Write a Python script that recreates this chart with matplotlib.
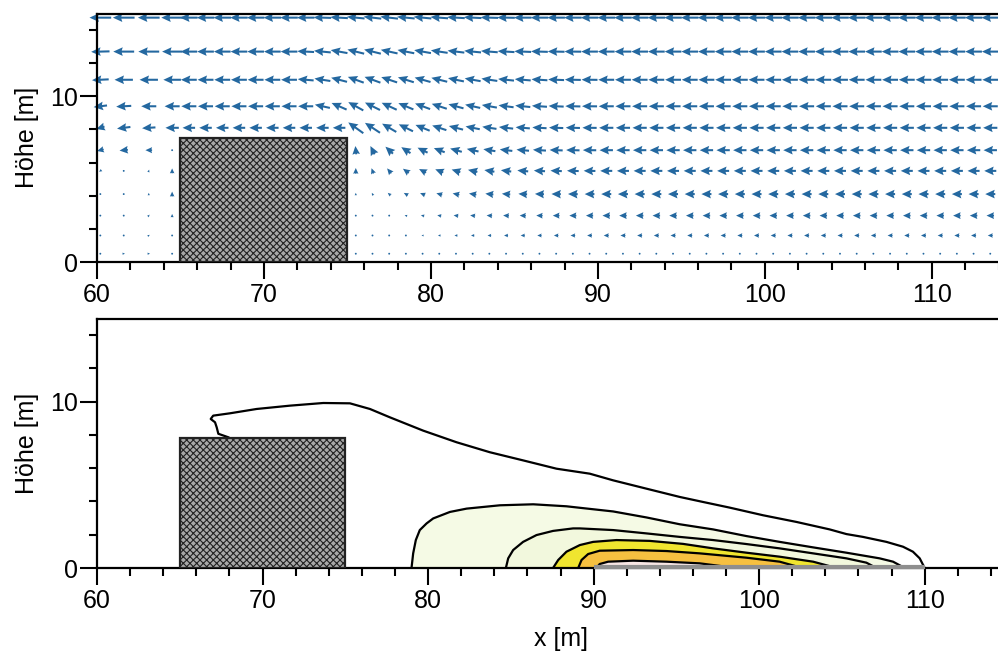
import matplotlib
matplotlib.use("Agg")
import matplotlib.pyplot as plt
from matplotlib.patches import Rectangle
from matplotlib.ticker import MultipleLocator
import numpy as np

plt.rcParams['font.family'] = ['Liberation Sans', 'DejaVu Sans']
plt.rcParams['hatch.linewidth'] = 0.8

# -------------------------------
# Geometry (m)
# -------------------------------
bldg_x = (65.0, 75.0)
bldg_h_top = 7.5
bldg_h_bot = 7.8
source_x = (90.0, 110.0)

# -------------------------------
# Wind field, arrows point upwind -> left
# -------------------------------
x_cols = [60.2, 61.6, 63.1, 64.5,
          65.5, 66.5, 67.5, 68.5, 69.5, 70.5, 71.5, 72.5, 73.5, 74.5,
          75.5, 76.5, 77.5, 78.5, 79.5, 80.5, 81.5, 82.5, 83.5, 84.5,
          85.5, 86.5, 87.5, 88.5, 89.5,
          90.5, 91.5, 92.5, 93.5, 94.5, 95.5, 96.5, 97.5, 98.5, 99.5,
          100.5, 101.5, 102.5, 103.5, 104.5, 105.5, 106.5, 107.5, 108.5,
          109.5, 110.5, 111.5, 112.5, 113.5]
y_rows = [0.5, 1.6, 2.8, 4.1, 5.5, 6.75, 8.1, 9.4, 11.0, 12.7, 14.75]

# each row: wake (4) + over building (10) + lee of source side (15) + far field (24)
u_rows = [
    [0.1, 0.15, 0.15, 0.05] + [0.0] * 10
    + [0.0, -0.01, -0.02, -0.03, -0.04, -0.05, -0.06, -0.07, -0.08, -0.08, -0.09, -0.09, -0.1, -0.1, -0.1]
    + [-0.1] * 24,
    [0.1, 0.12, 0.12, 0.05] + [0.0] * 10
    + [0.0, -0.03, -0.06, -0.1, -0.13, -0.16, -0.18, -0.2, -0.22, -0.24, -0.25, -0.26, -0.27, -0.28, -0.29]
    + [-0.3] * 24,
    [0.08, 0.1, 0.1, 0.0] + [0.0] * 10
    + [0.0, -0.05, -0.1, -0.15, -0.2, -0.24, -0.28, -0.3, -0.33, -0.35, -0.37, -0.38, -0.4, -0.42, -0.43]
    + [-0.45] * 24,
    [-0.05, -0.05, 0.0, 0.0] + [0.0] * 10
    + [0.0, -0.08, -0.17, -0.25, -0.3, -0.35, -0.4, -0.44, -0.48, -0.5, -0.52, -0.54, -0.56, -0.58, -0.58]
    + [-0.6] * 24,
    [-0.15, -0.08, 0.05, 0.0] + [0.0] * 10
    + [0.0, -0.12, -0.25, -0.35, -0.42, -0.48, -0.52, -0.56, -0.6, -0.62, -0.65, -0.67, -0.68, -0.7, -0.7]
    + [-0.72] * 24,
    [-0.4, -0.5, -0.4, -0.1] + [0.0] * 10
    + [-0.05, -0.25, -0.45, -0.55, -0.6, -0.65, -0.7, -0.7, -0.72, -0.75, -0.75, -0.78, -0.78, -0.8, -0.8]
    + [-0.8] * 24,
    [-0.5, -0.8, -0.8, -0.8] + [-0.75] * 10
    + [-0.9, -0.9] + [-0.85] * 13
    + [-0.85] * 24,
    [-0.8, -0.9, -0.9, -0.9] + [-0.9] * 10 + [-0.9] * 15 + [-0.9] * 24,
    [-1.0, -1.1, -1.1, -1.05] + [-0.95] * 10 + [-0.95] * 15 + [-0.95] * 24,
    [-1.1, -1.25, -1.25, -1.2] + [-1.0] * 10 + [-1.0] * 15 + [-1.0] * 24,
    [-1.3, -1.3, -1.3, -1.3] + [-1.05] * 10 + [-1.05] * 15 + [-1.05] * 24,
]
v_rows = [
    [0.0] * 4 + [0.0] * 10 + [0.0] * 15 + [0.0] * 24,
    [0.0, 0.0, 0.08, 0.1] + [0.0] * 10 + [0.0] * 15 + [0.0] * 24,
    [0.0, 0.0, 0.12, 0.2] + [0.0] * 10
    + [0.05, 0.05, 0.05, 0.05, 0.05, 0.04, 0.03, 0.03, 0.02, 0.02, 0.01, 0.01, 0.0, 0.0, 0.0]
    + [0.0] * 24,
    [-0.05, 0.0, 0.15, 0.3] + [0.0] * 10
    + [0.15, 0.15, 0.15, 0.14, 0.12, 0.1, 0.08, 0.07, 0.05, 0.04, 0.03, 0.02, 0.01, 0.01, 0.0]
    + [0.0] * 24,
    [-0.1, 0.0, 0.15, 0.3] + [0.0] * 10
    + [0.35, 0.32, 0.3, 0.26, 0.22, 0.19, 0.16, 0.13, 0.1, 0.08, 0.06, 0.04, 0.03, 0.02, 0.01]
    + [0.0] * 24,
    [-0.1, -0.05, 0.0, 0.0] + [0.0] * 10
    + [0.5, 0.5, 0.42, 0.36, 0.3, 0.25, 0.2, 0.16, 0.12, 0.09, 0.07, 0.05, 0.03, 0.02, 0.01]
    + [0.0] * 24,
    [-0.15, -0.1, -0.05, 0.0] + [0.0] * 10
    + [0.65, 0.6, 0.5, 0.42, 0.35, 0.28, 0.22, 0.17, 0.13, 0.1, 0.07, 0.05, 0.03, 0.02, 0.01]
    + [0.0] * 24,
    [-0.1, -0.05, 0.0, 0.0] + [0.0] * 8 + [0.2, 0.4]
    + [0.5, 0.45, 0.42, 0.38, 0.34, 0.3, 0.25, 0.2, 0.16, 0.12, 0.09, 0.06, 0.04, 0.02, 0.01]
    + [0.0] * 24,
    [-0.05, 0.0, 0.0, 0.0] + [0.0] * 7 + [0.08, 0.15, 0.25]
    + [0.35, 0.35, 0.32, 0.3, 0.27, 0.24, 0.2, 0.17, 0.14, 0.1, 0.08, 0.06, 0.04, 0.02, 0.01]
    + [0.0] * 24,
    [-0.03, 0.0, 0.0, 0.0] + [0.0] * 7 + [0.05, 0.1, 0.18]
    + [0.25, 0.25, 0.22, 0.2, 0.18, 0.15, 0.12, 0.1, 0.08, 0.06, 0.04, 0.03, 0.02, 0.01, 0.0]
    + [0.0] * 24,
    [0.0] * 4 + [0.0] * 8 + [0.03, 0.06]
    + [0.1, 0.12, 0.12, 0.1, 0.1, 0.08, 0.06, 0.05, 0.03, 0.02, 0.0, 0.0, 0.0, 0.0, 0.0]
    + [0.0] * 24,
]

# -------------------------------
# Concentration isolines (bottom panel), outer -> inner
# -------------------------------
c1_x = [67.93, 67.33, 67.23, 67.13, 66.87, 67.02, 68.03, 69.64, 71.65, 73.67, 75.28, 76.49,
        77.69, 79.70, 81.72, 83.73, 85.74, 87.76, 89.77, 91.18, 93.19, 95.21, 96.61, 98.22,
        100.24, 102.25, 104.26, 105.27, 106.27, 107.69, 108.69, 109.29, 109.70, 110.0]
c1_y = [7.86, 8.07, 8.46, 8.76, 8.96, 9.16, 9.30, 9.56, 9.76, 9.92, 9.90, 9.56,
        9.06, 8.26, 7.56, 6.96, 6.47, 5.97, 5.67, 5.27, 4.77, 4.27, 3.97, 3.63,
        3.17, 2.77, 2.32, 2.04, 1.87, 1.57, 1.28, 0.98, 0.58, 0.0]
c2_x = [79.0, 79.1, 79.26, 79.5, 79.91, 80.31, 81.32, 82.33, 84.34, 86.35, 88.36, 89.17,
        91.18, 93.19, 95.20, 97.22, 99.23, 101.24, 103.26, 105.27, 107.28, 108.09, 108.79]
c2_y = [0.0, 0.88, 1.68, 2.28, 2.68, 2.98, 3.37, 3.57, 3.77, 3.83, 3.71, 3.62,
        3.40, 3.04, 2.63, 2.32, 1.92, 1.57, 1.24, 0.92, 0.58, 0.38, 0.0]
c3_x = [84.70, 84.84, 85.14, 85.74, 86.55, 87.55, 88.76, 89.17, 91.18, 93.19, 95.20,
        97.22, 99.23, 101.24, 103.26, 105.27, 106.48, 107.08]
c3_y = [0.0, 0.58, 1.08, 1.57, 1.98, 2.23, 2.38, 2.38, 2.28, 2.08, 1.87,
        1.68, 1.44, 1.18, 0.88, 0.58, 0.32, 0.0]
c4_x = [87.55, 87.86, 88.36, 89.17, 89.97, 91.38, 93.39, 95.40, 97.22, 99.23, 101.24, 103.26, 104.67]
c4_y = [0.0, 0.48, 0.98, 1.38, 1.57, 1.68, 1.63, 1.45, 1.18, 0.92, 0.68, 0.38, 0.0]
c5_x = [89.07, 89.27, 89.67, 90.37, 92.39, 94.40, 96.41, 99.23, 101.24, 102.6]
c5_y = [0.0, 0.48, 0.84, 1.04, 1.08, 1.02, 0.88, 0.62, 0.38, 0.0]
c6_x = [90.17, 90.37, 90.88, 92.39, 94.40, 96.41, 98.6]
c6_y = [0.0, 0.24, 0.38, 0.44, 0.38, 0.28, 0.0]

iso_x = [c1_x, c2_x, c3_x, c4_x, c5_x, c6_x]
iso_y = [c1_y, c2_y, c3_y, c4_y, c5_y, c6_y]
iso_fill = ['white', '#f5fae5', '#f2f8dd', '#f0e52f', '#f6c040', '#f7e6e4']

xticks = [60, 70, 80, 90, 100, 110]
yticks = [0, 10]


def style_axes(ax):
    ax.set_xlim(60, 116)
    ax.set_ylim(0, 15)
    ax.set_xticks(xticks)
    ax.set_yticks(yticks)
    ax.xaxis.set_minor_locator(MultipleLocator(2))
    ax.yaxis.set_minor_locator(MultipleLocator(2))
    ax.tick_params(which='major', direction='out', length=12, width=1.5,
                   labelsize=18, pad=3)
    ax.tick_params(which='minor', direction='out', length=6, width=1.5)
    ax.tick_params(axis='y', which='major', pad=2)
    for s in ['left', 'bottom', 'top']:
        ax.spines[s].set_linewidth(1.6)
    ax.spines['right'].set_visible(False)
    ax.set_ylabel("Höhe [m]", fontsize=18, labelpad=8)


def building(ax, h):
    ax.add_patch(Rectangle((bldg_x[0], 0), bldg_x[1] - bldg_x[0], h,
                           facecolor='#a8a8a8', edgecolor='#222222',
                           hatch='xxxxx', linewidth=0, zorder=4))
    ax.add_patch(Rectangle((bldg_x[0], 0), bldg_x[1] - bldg_x[0], h,
                           facecolor='none', edgecolor='#222222',
                           linewidth=1.6, zorder=5))


fig = plt.figure(figsize=(9.98, 6.55), dpi=100)

# -------------------------------
# Top: wind vectors
# -------------------------------
ax1 = fig.add_axes([97 / 998, 1 - 262 / 655, (1032 - 97) / 998, 248.5 / 655])
X, Y = np.meshgrid(x_cols, y_rows)
U = np.array(u_rows)
V = np.array(v_rows)
ax1.quiver(X, Y, U, V, angles='xy', scale_units='xy', scale=1, pivot='middle',
           color='#2468a0', width=0.0022, headwidth=4.2, headlength=4.6,
           headaxislength=4.1, zorder=2, clip_on=False)
building(ax1, bldg_h_top)
style_axes(ax1)

# -------------------------------
# Bottom: concentration isolines
# -------------------------------
ax2 = fig.add_axes([97 / 998, 1 - 568 / 655, (1024 - 97) / 998, 249.5 / 655])
for xs, ys, fc in zip(iso_x, iso_y, iso_fill):
    ax2.fill(xs, ys, facecolor=fc, edgecolor='none', zorder=2)
for xs, ys in zip(iso_x, iso_y):
    ax2.plot(xs, ys, color='black', linewidth=1.6, zorder=3)
ax2.plot(source_x, [0.05, 0.05], color='#8e8e8e', linewidth=3,
         solid_capstyle='butt', zorder=6, clip_on=False)
building(ax2, bldg_h_bot)
style_axes(ax2)
ax2.set_xlabel("x [m]", fontsize=18, labelpad=10)

fig.savefig("out.png", dpi=100)
plt.close(fig)
